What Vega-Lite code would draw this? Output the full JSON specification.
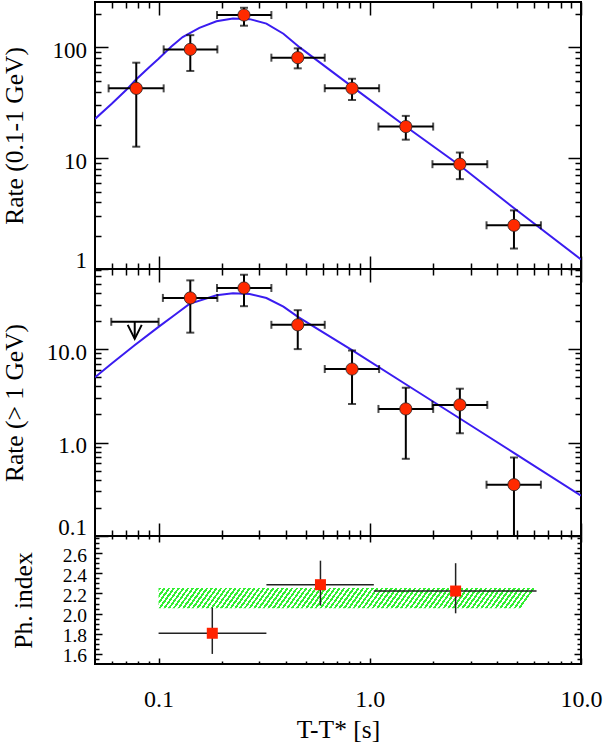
{
  "$schema": "https://vega.github.io/schema/vega-lite/v6.json",
  "background": "white",
  "padding": {"left": 1, "top": 0, "right": 0, "bottom": 0},
  "spacing": 0,
  "bounds": "flush",
  "config": {
    "view": {"stroke": "black", "strokeWidth": 2},
    "axis": {
      "domain": false, "grid": false,
      "tickColor": "black", "tickWidth": 1.5,
      "labelFont": "Liberation Serif", "labelFontSize": 23, "labelColor": "black",
      "labelFlush": false, "labelOverlap": false, "labelBound": false,
      "titleFont": "Liberation Serif", "titleFontSize": 25.5, "titleFontWeight": "normal", "titleColor": "black"
    }
  },
  "datasets": {
    "top": [
      {"t": 0.0784, "tlo": 0.058, "thi": 0.1057, "r": 42.7, "rlo": 12.7, "rhi": 72.8},
      {"t": 0.1413, "tlo": 0.1057, "thi": 0.1898, "r": 96, "rlo": 61.3, "rhi": 129},
      {"t": 0.2537, "tlo": 0.1891, "thi": 0.342, "r": 196, "rlo": 157, "rhi": 228},
      {"t": 0.456, "tlo": 0.342, "thi": 0.612, "r": 80.8, "rlo": 64.7, "rhi": 98},
      {"t": 0.824, "tlo": 0.612, "thi": 1.107, "r": 42.8, "rlo": 33.6, "rhi": 52.2},
      {"t": 1.481, "tlo": 1.099, "thi": 1.996, "r": 19.3, "rlo": 14.7, "rhi": 24.1},
      {"t": 2.67, "tlo": 1.98, "thi": 3.6, "r": 8.83, "rlo": 6.47, "rhi": 11.25},
      {"t": 4.815, "tlo": 3.57, "thi": 6.46, "r": 2.48, "rlo": 1.53, "rhi": 3.38}
    ],
    "topfit": [
      {"t": 0.05, "r": 22.6}, {"t": 0.06, "r": 31}, {"t": 0.07, "r": 41}, {"t": 0.078, "r": 51},
      {"t": 0.09, "r": 66}, {"t": 0.1, "r": 79}, {"t": 0.115, "r": 102}, {"t": 0.13, "r": 124},
      {"t": 0.156, "r": 150}, {"t": 0.188, "r": 172}, {"t": 0.225, "r": 182}, {"t": 0.27, "r": 180},
      {"t": 0.324, "r": 164}, {"t": 0.39, "r": 133}, {"t": 0.466, "r": 100}, {"t": 0.824, "r": 44.3},
      {"t": 1.48, "r": 19.3}, {"t": 2.67, "r": 8.6}, {"t": 4.81, "r": 3.55}, {"t": 10, "r": 1.22}
    ],
    "mid": [
      {"t": 0.1413, "tlo": 0.1048, "thi": 0.1898, "r": 35.3, "rlo": 15.0, "rhi": 54.4},
      {"t": 0.2537, "tlo": 0.189, "thi": 0.342, "r": 45.1, "rlo": 28.8, "rhi": 62.5},
      {"t": 0.456, "tlo": 0.342, "thi": 0.612, "r": 18.2, "rlo": 10.0, "rhi": 26.1},
      {"t": 0.824, "tlo": 0.612, "thi": 1.107, "r": 6.12, "rlo": 2.59, "rhi": 9.66},
      {"t": 1.481, "tlo": 1.099, "thi": 1.996, "r": 2.29, "rlo": 0.67, "rhi": 3.86},
      {"t": 2.67, "tlo": 1.98, "thi": 3.6, "r": 2.53, "rlo": 1.257, "rhi": 3.77},
      {"t": 4.815, "tlo": 3.57, "thi": 6.46, "r": 0.354, "rlo": 0.1, "rhi": 0.692}
    ],
    "midfit": [
      {"t": 0.05, "r": 5.0}, {"t": 0.06, "r": 7.0}, {"t": 0.077, "r": 11}, {"t": 0.1, "r": 17.3},
      {"t": 0.12, "r": 23.5}, {"t": 0.14, "r": 30.5}, {"t": 0.188, "r": 37.7}, {"t": 0.225, "r": 39.6},
      {"t": 0.27, "r": 38.9}, {"t": 0.324, "r": 35.2}, {"t": 0.39, "r": 28.5}, {"t": 0.457, "r": 22.1},
      {"t": 0.824, "r": 9.75}, {"t": 1.48, "r": 4.21}, {"t": 2.67, "r": 1.81}, {"t": 4.81, "r": 0.776},
      {"t": 10, "r": 0.27}
    ],
    "ul": [{"t": 0.0771, "tlo": 0.0597, "thi": 0.1, "r": 19.6, "tip": 13.0, "head": 15.3}],
    "ph": [
      {"t": 0.1796, "tlo": 0.1, "thi": 0.324, "g": 1.805, "glo": 1.6, "ghi": 2.06},
      {"t": 0.584, "tlo": 0.324, "thi": 1.045, "g": 2.287, "glo": 2.08, "ghi": 2.525},
      {"t": 2.549, "tlo": 1.045, "thi": 6.16, "g": 2.224, "glo": 2.003, "ghi": 2.5}
    ],
    "band": [{"tlo": 0.1, "thi": 6.16, "glo": 2.052, "ghi": 2.253}]
  },
  "vconcat": [
    {
      "width": 486, "height": 267,
      "resolve": {"axis": {"x": "independent", "y": "independent"}},
      "layer": [
        {
          "data": {"name": "topfit"},
          "mark": {"type": "line", "color": "#3a1cf0", "strokeWidth": 2, "clip": true},
          "encoding": {
            "x": {"field": "t", "type": "quantitative", "scale": {"type": "log", "domain": [0.05, 10], "nice": false},
                  "axis": {"orient": "bottom", "values": [0.1, 1, 10], "tickSize": -13, "labels": false, "title": null}},
            "y": {"field": "r", "type": "quantitative", "scale": {"type": "log", "domain": [1, 257], "nice": false},
                  "axis": {"orient": "left", "values": [1, 10, 100], "tickSize": -13, "labelPadding": 21.5, "labelOffset": 3, "format": "~g",
                           "labelBaseline": {"condition": {"test": "datum.value <= 1", "value": "bottom"}, "value": "middle"},
                           "title": "Rate (0.1-1 GeV)", "titleAngle": 270, "titleBaseline": "alphabetic", "titleX": -73}}
          }
        },
        {
          "data": {"name": "topfit"},
          "mark": {"type": "point", "opacity": 0},
          "encoding": {
            "x": {"field": "t", "type": "quantitative", "axis": {"orient": "bottom", "values": [0.06, 0.07, 0.08, 0.09, 0.2, 0.3, 0.4, 0.5, 0.6, 0.7, 0.8, 0.9, 2, 3, 4, 5, 6, 7, 8, 9], "tickSize": -6, "labels": false, "title": null}},
            "y": {"field": "r", "type": "quantitative", "axis": {"orient": "left", "values": [2, 3, 4, 5, 6, 7, 8, 9, 20, 30, 40, 50, 60, 70, 80, 90, 200], "tickSize": -6, "labels": false, "title": null}}
          }
        },
        {
          "data": {"name": "topfit"},
          "mark": {"type": "point", "opacity": 0},
          "encoding": {
            "x": {"field": "t", "type": "quantitative", "axis": {"orient": "top", "values": [0.1, 1, 10], "tickSize": -13, "labels": false, "title": null}},
            "y": {"field": "r", "type": "quantitative", "axis": {"orient": "right", "values": [1, 10, 100], "tickSize": -13, "labels": false, "title": null}}
          }
        },
        {
          "data": {"name": "topfit"},
          "mark": {"type": "point", "opacity": 0},
          "encoding": {
            "x": {"field": "t", "type": "quantitative", "axis": {"orient": "top", "values": [0.06, 0.07, 0.08, 0.09, 0.2, 0.3, 0.4, 0.5, 0.6, 0.7, 0.8, 0.9, 2, 3, 4, 5, 6, 7, 8, 9], "tickSize": -6, "labels": false, "title": null}},
            "y": {"field": "r", "type": "quantitative", "axis": {"orient": "right", "values": [2, 3, 4, 5, 6, 7, 8, 9, 20, 30, 40, 50, 60, 70, 80, 90, 200], "tickSize": -6, "labels": false, "title": null}}
          }
        },
        {
          "data": {"name": "top"},
          "mark": {"type": "errorbar", "ticks": {"size": 8, "thickness": 2, "color": "black"}, "rule": {"strokeWidth": 2, "color": "black"}},
          "encoding": {
            "x": {"field": "tlo", "type": "quantitative", "axis": null},
            "x2": {"field": "thi"},
            "y": {"field": "r", "type": "quantitative", "axis": null}
          }
        },
        {
          "data": {"name": "top"},
          "mark": {"type": "errorbar", "ticks": {"size": 8, "thickness": 2, "color": "black"}, "rule": {"strokeWidth": 2, "color": "black"}},
          "encoding": {
            "x": {"field": "t", "type": "quantitative", "axis": null},
            "y": {"field": "rlo", "type": "quantitative", "axis": null},
            "y2": {"field": "rhi"}
          }
        },
        {
          "data": {"name": "top"},
          "mark": {"type": "point", "shape": "circle", "filled": true, "color": "#ff2a00", "stroke": "#222222", "strokeWidth": 0.8, "size": 150, "opacity": 1},
          "encoding": {
            "x": {"field": "t", "type": "quantitative", "axis": null},
            "y": {"field": "r", "type": "quantitative", "axis": null}
          }
        }
      ]
    },
    {
      "width": 486, "height": 267,
      "resolve": {"axis": {"x": "independent", "y": "independent"}},
      "layer": [
        {
          "data": {"name": "midfit"},
          "mark": {"type": "line", "color": "#3a1cf0", "strokeWidth": 2, "clip": true},
          "encoding": {
            "x": {"field": "t", "type": "quantitative", "scale": {"type": "log", "domain": [0.05, 10], "nice": false},
                  "axis": {"orient": "bottom", "values": [0.1, 1, 10], "tickSize": -13, "labels": false, "title": null}},
            "y": {"field": "r", "type": "quantitative", "scale": {"type": "log", "domain": [0.1, 72], "nice": false},
                  "axis": {"orient": "left", "values": [0.1, 1, 10], "tickSize": -13, "labelPadding": 21.5, "labelOffset": 3, "format": ".1f",
                           "labelBaseline": {"condition": {"test": "datum.value <= 0.1", "value": "bottom"}, "value": "middle"},
                           "title": "Rate (> 1 GeV)", "titleAngle": 270, "titleBaseline": "alphabetic", "titleX": -73}}
          }
        },
        {
          "data": {"name": "midfit"},
          "mark": {"type": "point", "opacity": 0},
          "encoding": {
            "x": {"field": "t", "type": "quantitative", "axis": {"orient": "bottom", "values": [0.06, 0.07, 0.08, 0.09, 0.2, 0.3, 0.4, 0.5, 0.6, 0.7, 0.8, 0.9, 2, 3, 4, 5, 6, 7, 8, 9], "tickSize": -6, "labels": false, "title": null}},
            "y": {"field": "r", "type": "quantitative", "axis": {"orient": "left", "values": [0.2, 0.3, 0.4, 0.5, 0.6, 0.7, 0.8, 0.9, 2, 3, 4, 5, 6, 7, 8, 9, 20, 30, 40, 50, 60, 70], "tickSize": -6, "labels": false, "title": null}}
          }
        },
        {
          "data": {"name": "midfit"},
          "mark": {"type": "point", "opacity": 0},
          "encoding": {
            "x": {"field": "t", "type": "quantitative", "axis": {"orient": "top", "values": [0.1, 1, 10], "tickSize": -13, "labels": false, "title": null}},
            "y": {"field": "r", "type": "quantitative", "axis": {"orient": "right", "values": [0.1, 1, 10], "tickSize": -13, "labels": false, "title": null}}
          }
        },
        {
          "data": {"name": "midfit"},
          "mark": {"type": "point", "opacity": 0},
          "encoding": {
            "x": {"field": "t", "type": "quantitative", "axis": {"orient": "top", "values": [0.06, 0.07, 0.08, 0.09, 0.2, 0.3, 0.4, 0.5, 0.6, 0.7, 0.8, 0.9, 2, 3, 4, 5, 6, 7, 8, 9], "tickSize": -6, "labels": false, "title": null}},
            "y": {"field": "r", "type": "quantitative", "axis": {"orient": "right", "values": [0.2, 0.3, 0.4, 0.5, 0.6, 0.7, 0.8, 0.9, 2, 3, 4, 5, 6, 7, 8, 9, 20, 30, 40, 50, 60, 70], "tickSize": -6, "labels": false, "title": null}}
          }
        },
        {
          "data": {"name": "ul"},
          "mark": {"type": "errorbar", "ticks": {"size": 8, "thickness": 2, "color": "black"}, "rule": {"strokeWidth": 2, "color": "black"}},
          "encoding": {
            "x": {"field": "tlo", "type": "quantitative", "axis": null},
            "x2": {"field": "thi"},
            "y": {"field": "r", "type": "quantitative", "axis": null}
          }
        },
        {
          "data": {"name": "ul"},
          "mark": {"type": "rule", "color": "black", "strokeWidth": 2},
          "encoding": {
            "x": {"field": "t", "type": "quantitative", "axis": null},
            "y": {"field": "r", "type": "quantitative", "axis": null},
            "y2": {"field": "tip"}
          }
        },
        {
          "data": {"name": "ul"},
          "mark": {"type": "point", "shape": "M-1,-1L0,1L1,-1", "filled": false, "stroke": "black", "strokeWidth": 2, "size": 196, "opacity": 1},
          "encoding": {
            "x": {"field": "t", "type": "quantitative", "axis": null},
            "y": {"field": "head", "type": "quantitative", "axis": null}
          }
        },
        {
          "data": {"name": "mid"},
          "mark": {"type": "errorbar", "ticks": {"size": 8, "thickness": 2, "color": "black"}, "rule": {"strokeWidth": 2, "color": "black"}},
          "encoding": {
            "x": {"field": "tlo", "type": "quantitative", "axis": null},
            "x2": {"field": "thi"},
            "y": {"field": "r", "type": "quantitative", "axis": null}
          }
        },
        {
          "data": {"name": "mid"},
          "mark": {"type": "errorbar", "ticks": {"size": 8, "thickness": 2, "color": "black"}, "rule": {"strokeWidth": 2, "color": "black"}},
          "encoding": {
            "x": {"field": "t", "type": "quantitative", "axis": null},
            "y": {"field": "rlo", "type": "quantitative", "axis": null},
            "y2": {"field": "rhi"}
          }
        },
        {
          "data": {"name": "mid"},
          "mark": {"type": "point", "shape": "circle", "filled": true, "color": "#ff2a00", "stroke": "#222222", "strokeWidth": 0.8, "size": 150, "opacity": 1},
          "encoding": {
            "x": {"field": "t", "type": "quantitative", "axis": null},
            "y": {"field": "r", "type": "quantitative", "axis": null}
          }
        }
      ]
    },
    {
      "width": 486, "height": 128,
      "resolve": {"axis": {"x": "independent", "y": "independent"}},
      "layer": [
        {
          "data": {"name": "band"},
          "mark": {"type": "rect", "fill": {"gradient": "linear", "x1": 0, "y1": 0, "x2": 1, "y2": 0.0383, "stops": [
            {"offset": 0, "color": "#3e3"}, {"offset": 0.00625, "color": "#3e3"}, {"offset": 0.00625, "color": "#fff"}, {"offset": 0.0125, "color": "#fff"},
            {"offset": 0.0125, "color": "#3e3"}, {"offset": 0.01875, "color": "#3e3"}, {"offset": 0.01875, "color": "#fff"}, {"offset": 0.025, "color": "#fff"},
            {"offset": 0.025, "color": "#3e3"}, {"offset": 0.03125, "color": "#3e3"}, {"offset": 0.03125, "color": "#fff"}, {"offset": 0.0375, "color": "#fff"},
            {"offset": 0.0375, "color": "#3e3"}, {"offset": 0.04375, "color": "#3e3"}, {"offset": 0.04375, "color": "#fff"}, {"offset": 0.05, "color": "#fff"},
            {"offset": 0.05, "color": "#3e3"}, {"offset": 0.05625, "color": "#3e3"}, {"offset": 0.05625, "color": "#fff"}, {"offset": 0.0625, "color": "#fff"},
            {"offset": 0.0625, "color": "#3e3"}, {"offset": 0.06875, "color": "#3e3"}, {"offset": 0.06875, "color": "#fff"}, {"offset": 0.075, "color": "#fff"},
            {"offset": 0.075, "color": "#3e3"}, {"offset": 0.08125, "color": "#3e3"}, {"offset": 0.08125, "color": "#fff"}, {"offset": 0.0875, "color": "#fff"},
            {"offset": 0.0875, "color": "#3e3"}, {"offset": 0.09375, "color": "#3e3"}, {"offset": 0.09375, "color": "#fff"}, {"offset": 0.1, "color": "#fff"},
            {"offset": 0.1, "color": "#3e3"}, {"offset": 0.10625, "color": "#3e3"}, {"offset": 0.10625, "color": "#fff"}, {"offset": 0.1125, "color": "#fff"},
            {"offset": 0.1125, "color": "#3e3"}, {"offset": 0.11875, "color": "#3e3"}, {"offset": 0.11875, "color": "#fff"}, {"offset": 0.125, "color": "#fff"},
            {"offset": 0.125, "color": "#3e3"}, {"offset": 0.13125, "color": "#3e3"}, {"offset": 0.13125, "color": "#fff"}, {"offset": 0.1375, "color": "#fff"},
            {"offset": 0.1375, "color": "#3e3"}, {"offset": 0.14375, "color": "#3e3"}, {"offset": 0.14375, "color": "#fff"}, {"offset": 0.15, "color": "#fff"},
            {"offset": 0.15, "color": "#3e3"}, {"offset": 0.15625, "color": "#3e3"}, {"offset": 0.15625, "color": "#fff"}, {"offset": 0.1625, "color": "#fff"},
            {"offset": 0.1625, "color": "#3e3"}, {"offset": 0.16875, "color": "#3e3"}, {"offset": 0.16875, "color": "#fff"}, {"offset": 0.175, "color": "#fff"},
            {"offset": 0.175, "color": "#3e3"}, {"offset": 0.18125, "color": "#3e3"}, {"offset": 0.18125, "color": "#fff"}, {"offset": 0.1875, "color": "#fff"},
            {"offset": 0.1875, "color": "#3e3"}, {"offset": 0.19375, "color": "#3e3"}, {"offset": 0.19375, "color": "#fff"}, {"offset": 0.2, "color": "#fff"},
            {"offset": 0.2, "color": "#3e3"}, {"offset": 0.20625, "color": "#3e3"}, {"offset": 0.20625, "color": "#fff"}, {"offset": 0.2125, "color": "#fff"},
            {"offset": 0.2125, "color": "#3e3"}, {"offset": 0.21875, "color": "#3e3"}, {"offset": 0.21875, "color": "#fff"}, {"offset": 0.225, "color": "#fff"},
            {"offset": 0.225, "color": "#3e3"}, {"offset": 0.23125, "color": "#3e3"}, {"offset": 0.23125, "color": "#fff"}, {"offset": 0.2375, "color": "#fff"},
            {"offset": 0.2375, "color": "#3e3"}, {"offset": 0.24375, "color": "#3e3"}, {"offset": 0.24375, "color": "#fff"}, {"offset": 0.25, "color": "#fff"},
            {"offset": 0.25, "color": "#3e3"}, {"offset": 0.25625, "color": "#3e3"}, {"offset": 0.25625, "color": "#fff"}, {"offset": 0.2625, "color": "#fff"},
            {"offset": 0.2625, "color": "#3e3"}, {"offset": 0.26875, "color": "#3e3"}, {"offset": 0.26875, "color": "#fff"}, {"offset": 0.275, "color": "#fff"},
            {"offset": 0.275, "color": "#3e3"}, {"offset": 0.28125, "color": "#3e3"}, {"offset": 0.28125, "color": "#fff"}, {"offset": 0.2875, "color": "#fff"},
            {"offset": 0.2875, "color": "#3e3"}, {"offset": 0.29375, "color": "#3e3"}, {"offset": 0.29375, "color": "#fff"}, {"offset": 0.3, "color": "#fff"},
            {"offset": 0.3, "color": "#3e3"}, {"offset": 0.30625, "color": "#3e3"}, {"offset": 0.30625, "color": "#fff"}, {"offset": 0.3125, "color": "#fff"},
            {"offset": 0.3125, "color": "#3e3"}, {"offset": 0.31875, "color": "#3e3"}, {"offset": 0.31875, "color": "#fff"}, {"offset": 0.325, "color": "#fff"},
            {"offset": 0.325, "color": "#3e3"}, {"offset": 0.33125, "color": "#3e3"}, {"offset": 0.33125, "color": "#fff"}, {"offset": 0.3375, "color": "#fff"},
            {"offset": 0.3375, "color": "#3e3"}, {"offset": 0.34375, "color": "#3e3"}, {"offset": 0.34375, "color": "#fff"}, {"offset": 0.35, "color": "#fff"},
            {"offset": 0.35, "color": "#3e3"}, {"offset": 0.35625, "color": "#3e3"}, {"offset": 0.35625, "color": "#fff"}, {"offset": 0.3625, "color": "#fff"},
            {"offset": 0.3625, "color": "#3e3"}, {"offset": 0.36875, "color": "#3e3"}, {"offset": 0.36875, "color": "#fff"}, {"offset": 0.375, "color": "#fff"},
            {"offset": 0.375, "color": "#3e3"}, {"offset": 0.38125, "color": "#3e3"}, {"offset": 0.38125, "color": "#fff"}, {"offset": 0.3875, "color": "#fff"},
            {"offset": 0.3875, "color": "#3e3"}, {"offset": 0.39375, "color": "#3e3"}, {"offset": 0.39375, "color": "#fff"}, {"offset": 0.4, "color": "#fff"},
            {"offset": 0.4, "color": "#3e3"}, {"offset": 0.40625, "color": "#3e3"}, {"offset": 0.40625, "color": "#fff"}, {"offset": 0.4125, "color": "#fff"},
            {"offset": 0.4125, "color": "#3e3"}, {"offset": 0.41875, "color": "#3e3"}, {"offset": 0.41875, "color": "#fff"}, {"offset": 0.425, "color": "#fff"},
            {"offset": 0.425, "color": "#3e3"}, {"offset": 0.43125, "color": "#3e3"}, {"offset": 0.43125, "color": "#fff"}, {"offset": 0.4375, "color": "#fff"},
            {"offset": 0.4375, "color": "#3e3"}, {"offset": 0.44375, "color": "#3e3"}, {"offset": 0.44375, "color": "#fff"}, {"offset": 0.45, "color": "#fff"},
            {"offset": 0.45, "color": "#3e3"}, {"offset": 0.45625, "color": "#3e3"}, {"offset": 0.45625, "color": "#fff"}, {"offset": 0.4625, "color": "#fff"},
            {"offset": 0.4625, "color": "#3e3"}, {"offset": 0.46875, "color": "#3e3"}, {"offset": 0.46875, "color": "#fff"}, {"offset": 0.475, "color": "#fff"},
            {"offset": 0.475, "color": "#3e3"}, {"offset": 0.48125, "color": "#3e3"}, {"offset": 0.48125, "color": "#fff"}, {"offset": 0.4875, "color": "#fff"},
            {"offset": 0.4875, "color": "#3e3"}, {"offset": 0.49375, "color": "#3e3"}, {"offset": 0.49375, "color": "#fff"}, {"offset": 0.5, "color": "#fff"},
            {"offset": 0.5, "color": "#3e3"}, {"offset": 0.50625, "color": "#3e3"}, {"offset": 0.50625, "color": "#fff"}, {"offset": 0.5125, "color": "#fff"},
            {"offset": 0.5125, "color": "#3e3"}, {"offset": 0.51875, "color": "#3e3"}, {"offset": 0.51875, "color": "#fff"}, {"offset": 0.525, "color": "#fff"},
            {"offset": 0.525, "color": "#3e3"}, {"offset": 0.53125, "color": "#3e3"}, {"offset": 0.53125, "color": "#fff"}, {"offset": 0.5375, "color": "#fff"},
            {"offset": 0.5375, "color": "#3e3"}, {"offset": 0.54375, "color": "#3e3"}, {"offset": 0.54375, "color": "#fff"}, {"offset": 0.55, "color": "#fff"},
            {"offset": 0.55, "color": "#3e3"}, {"offset": 0.55625, "color": "#3e3"}, {"offset": 0.55625, "color": "#fff"}, {"offset": 0.5625, "color": "#fff"},
            {"offset": 0.5625, "color": "#3e3"}, {"offset": 0.56875, "color": "#3e3"}, {"offset": 0.56875, "color": "#fff"}, {"offset": 0.575, "color": "#fff"},
            {"offset": 0.575, "color": "#3e3"}, {"offset": 0.58125, "color": "#3e3"}, {"offset": 0.58125, "color": "#fff"}, {"offset": 0.5875, "color": "#fff"},
            {"offset": 0.5875, "color": "#3e3"}, {"offset": 0.59375, "color": "#3e3"}, {"offset": 0.59375, "color": "#fff"}, {"offset": 0.6, "color": "#fff"},
            {"offset": 0.6, "color": "#3e3"}, {"offset": 0.60625, "color": "#3e3"}, {"offset": 0.60625, "color": "#fff"}, {"offset": 0.6125, "color": "#fff"},
            {"offset": 0.6125, "color": "#3e3"}, {"offset": 0.61875, "color": "#3e3"}, {"offset": 0.61875, "color": "#fff"}, {"offset": 0.625, "color": "#fff"},
            {"offset": 0.625, "color": "#3e3"}, {"offset": 0.63125, "color": "#3e3"}, {"offset": 0.63125, "color": "#fff"}, {"offset": 0.6375, "color": "#fff"},
            {"offset": 0.6375, "color": "#3e3"}, {"offset": 0.64375, "color": "#3e3"}, {"offset": 0.64375, "color": "#fff"}, {"offset": 0.65, "color": "#fff"},
            {"offset": 0.65, "color": "#3e3"}, {"offset": 0.65625, "color": "#3e3"}, {"offset": 0.65625, "color": "#fff"}, {"offset": 0.6625, "color": "#fff"},
            {"offset": 0.6625, "color": "#3e3"}, {"offset": 0.66875, "color": "#3e3"}, {"offset": 0.66875, "color": "#fff"}, {"offset": 0.675, "color": "#fff"},
            {"offset": 0.675, "color": "#3e3"}, {"offset": 0.68125, "color": "#3e3"}, {"offset": 0.68125, "color": "#fff"}, {"offset": 0.6875, "color": "#fff"},
            {"offset": 0.6875, "color": "#3e3"}, {"offset": 0.69375, "color": "#3e3"}, {"offset": 0.69375, "color": "#fff"}, {"offset": 0.7, "color": "#fff"},
            {"offset": 0.7, "color": "#3e3"}, {"offset": 0.70625, "color": "#3e3"}, {"offset": 0.70625, "color": "#fff"}, {"offset": 0.7125, "color": "#fff"},
            {"offset": 0.7125, "color": "#3e3"}, {"offset": 0.71875, "color": "#3e3"}, {"offset": 0.71875, "color": "#fff"}, {"offset": 0.725, "color": "#fff"},
            {"offset": 0.725, "color": "#3e3"}, {"offset": 0.73125, "color": "#3e3"}, {"offset": 0.73125, "color": "#fff"}, {"offset": 0.7375, "color": "#fff"},
            {"offset": 0.7375, "color": "#3e3"}, {"offset": 0.74375, "color": "#3e3"}, {"offset": 0.74375, "color": "#fff"}, {"offset": 0.75, "color": "#fff"},
            {"offset": 0.75, "color": "#3e3"}, {"offset": 0.75625, "color": "#3e3"}, {"offset": 0.75625, "color": "#fff"}, {"offset": 0.7625, "color": "#fff"},
            {"offset": 0.7625, "color": "#3e3"}, {"offset": 0.76875, "color": "#3e3"}, {"offset": 0.76875, "color": "#fff"}, {"offset": 0.775, "color": "#fff"},
            {"offset": 0.775, "color": "#3e3"}, {"offset": 0.78125, "color": "#3e3"}, {"offset": 0.78125, "color": "#fff"}, {"offset": 0.7875, "color": "#fff"},
            {"offset": 0.7875, "color": "#3e3"}, {"offset": 0.79375, "color": "#3e3"}, {"offset": 0.79375, "color": "#fff"}, {"offset": 0.8, "color": "#fff"},
            {"offset": 0.8, "color": "#3e3"}, {"offset": 0.80625, "color": "#3e3"}, {"offset": 0.80625, "color": "#fff"}, {"offset": 0.8125, "color": "#fff"},
            {"offset": 0.8125, "color": "#3e3"}, {"offset": 0.81875, "color": "#3e3"}, {"offset": 0.81875, "color": "#fff"}, {"offset": 0.825, "color": "#fff"},
            {"offset": 0.825, "color": "#3e3"}, {"offset": 0.83125, "color": "#3e3"}, {"offset": 0.83125, "color": "#fff"}, {"offset": 0.8375, "color": "#fff"},
            {"offset": 0.8375, "color": "#3e3"}, {"offset": 0.84375, "color": "#3e3"}, {"offset": 0.84375, "color": "#fff"}, {"offset": 0.85, "color": "#fff"},
            {"offset": 0.85, "color": "#3e3"}, {"offset": 0.85625, "color": "#3e3"}, {"offset": 0.85625, "color": "#fff"}, {"offset": 0.8625, "color": "#fff"},
            {"offset": 0.8625, "color": "#3e3"}, {"offset": 0.86875, "color": "#3e3"}, {"offset": 0.86875, "color": "#fff"}, {"offset": 0.875, "color": "#fff"},
            {"offset": 0.875, "color": "#3e3"}, {"offset": 0.88125, "color": "#3e3"}, {"offset": 0.88125, "color": "#fff"}, {"offset": 0.8875, "color": "#fff"},
            {"offset": 0.8875, "color": "#3e3"}, {"offset": 0.89375, "color": "#3e3"}, {"offset": 0.89375, "color": "#fff"}, {"offset": 0.9, "color": "#fff"},
            {"offset": 0.9, "color": "#3e3"}, {"offset": 0.90625, "color": "#3e3"}, {"offset": 0.90625, "color": "#fff"}, {"offset": 0.9125, "color": "#fff"},
            {"offset": 0.9125, "color": "#3e3"}, {"offset": 0.91875, "color": "#3e3"}, {"offset": 0.91875, "color": "#fff"}, {"offset": 0.925, "color": "#fff"},
            {"offset": 0.925, "color": "#3e3"}, {"offset": 0.93125, "color": "#3e3"}, {"offset": 0.93125, "color": "#fff"}, {"offset": 0.9375, "color": "#fff"},
            {"offset": 0.9375, "color": "#3e3"}, {"offset": 0.94375, "color": "#3e3"}, {"offset": 0.94375, "color": "#fff"}, {"offset": 0.95, "color": "#fff"},
            {"offset": 0.95, "color": "#3e3"}, {"offset": 0.95625, "color": "#3e3"}, {"offset": 0.95625, "color": "#fff"}, {"offset": 0.9625, "color": "#fff"},
            {"offset": 0.9625, "color": "#3e3"}, {"offset": 0.96875, "color": "#3e3"}, {"offset": 0.96875, "color": "#fff"}, {"offset": 0.975, "color": "#fff"},
            {"offset": 0.975, "color": "#3e3"}, {"offset": 0.98125, "color": "#3e3"}, {"offset": 0.98125, "color": "#fff"}, {"offset": 0.9875, "color": "#fff"},
            {"offset": 0.9875, "color": "#3e3"}, {"offset": 0.99375, "color": "#3e3"}, {"offset": 0.99375, "color": "#fff"}, {"offset": 1, "color": "#fff"}
          ]}},
          "encoding": {
            "x": {"field": "tlo", "type": "quantitative", "scale": {"type": "log", "domain": [0.05, 10], "nice": false},
                  "axis": {"orient": "bottom", "values": [0.1, 1, 10], "tickSize": -6, "labelPadding": 29, "format": ".1f", "labelFontSize": 24,
                           "title": "T-T* [s]", "titleBaseline": "alphabetic", "titleX": 243, "titleY": 73}},
            "x2": {"field": "thi"},
            "y": {"field": "glo", "type": "quantitative", "scale": {"domain": [1.5, 2.77], "nice": false, "zero": false},
                  "axis": {"orient": "left", "values": [1.6, 1.8, 2.0, 2.2, 2.4, 2.6], "tickSize": -7, "labelPadding": 15.5, "labelOffset": 2, "format": ".1f", "labelFontSize": 19.5,
                           "title": "Ph. index", "titleAngle": 270, "titleBaseline": "alphabetic", "titleX": -64}},
            "y2": {"field": "ghi"}
          }
        },
        {
          "data": {"name": "ph"},
          "mark": {"type": "point", "opacity": 0},
          "encoding": {
            "x": {"field": "t", "type": "quantitative", "axis": {"orient": "bottom", "values": [0.06, 0.07, 0.08, 0.09, 0.2, 0.3, 0.4, 0.5, 0.6, 0.7, 0.8, 0.9, 2, 3, 4, 5, 6, 7, 8, 9], "tickSize": -3, "labels": false, "title": null}},
            "y": {"field": "g", "type": "quantitative", "axis": {"orient": "left", "values": [1.55, 1.65, 1.7, 1.75, 1.85, 1.9, 1.95, 2.05, 2.1, 2.15, 2.25, 2.3, 2.35, 2.45, 2.5, 2.55, 2.65, 2.7, 2.75], "tickSize": -4, "labels": false, "title": null}}
          }
        },
        {
          "data": {"name": "ph"},
          "mark": {"type": "point", "opacity": 0},
          "encoding": {
            "x": {"field": "t", "type": "quantitative", "axis": {"orient": "top", "values": [0.1, 1, 10], "tickSize": -6, "labels": false, "title": null}},
            "y": {"field": "g", "type": "quantitative", "axis": {"orient": "right", "values": [1.6, 1.8, 2.0, 2.2, 2.4, 2.6], "tickSize": -7, "labels": false, "title": null}}
          }
        },
        {
          "data": {"name": "ph"},
          "mark": {"type": "point", "opacity": 0},
          "encoding": {
            "x": {"field": "t", "type": "quantitative", "axis": {"orient": "top", "values": [0.06, 0.07, 0.08, 0.09, 0.2, 0.3, 0.4, 0.5, 0.6, 0.7, 0.8, 0.9, 2, 3, 4, 5, 6, 7, 8, 9], "tickSize": -3, "labels": false, "title": null}},
            "y": {"field": "g", "type": "quantitative", "axis": {"orient": "right", "values": [1.55, 1.65, 1.7, 1.75, 1.85, 1.9, 1.95, 2.05, 2.1, 2.15, 2.25, 2.3, 2.35, 2.45, 2.5, 2.55, 2.65, 2.7, 2.75], "tickSize": -4, "labels": false, "title": null}}
          }
        },
        {
          "data": {"name": "ph"},
          "mark": {"type": "rule", "color": "#222222", "strokeWidth": 1.5},
          "encoding": {
            "x": {"field": "tlo", "type": "quantitative", "axis": null},
            "x2": {"field": "thi"},
            "y": {"field": "g", "type": "quantitative", "axis": null}
          }
        },
        {
          "data": {"name": "ph"},
          "mark": {"type": "rule", "color": "#222222", "strokeWidth": 1.5},
          "encoding": {
            "x": {"field": "t", "type": "quantitative", "axis": null},
            "y": {"field": "glo", "type": "quantitative", "axis": null},
            "y2": {"field": "ghi"}
          }
        },
        {
          "data": {"name": "ph"},
          "mark": {"type": "point", "shape": "square", "filled": true, "color": "#ff2200", "size": 121, "opacity": 1},
          "encoding": {
            "x": {"field": "t", "type": "quantitative", "axis": null},
            "y": {"field": "g", "type": "quantitative", "axis": null}
          }
        }
      ]
    }
  ]
}
